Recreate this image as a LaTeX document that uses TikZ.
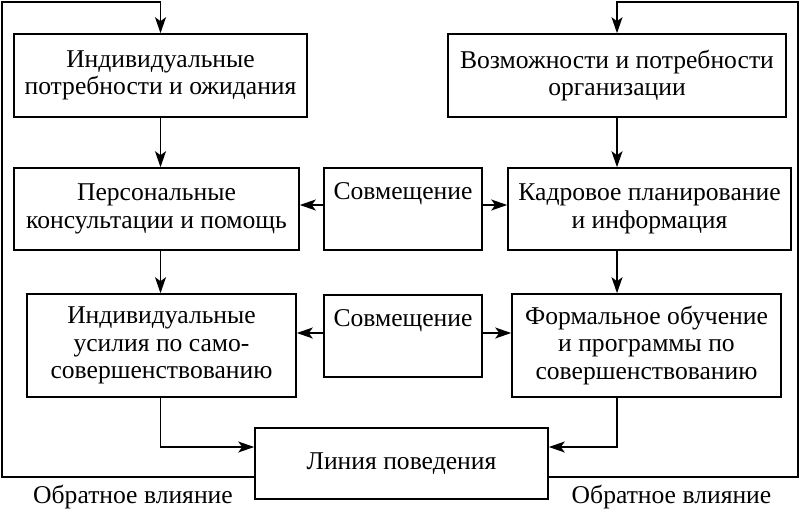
\documentclass[tikz,border=0pt]{standalone}
\usepackage{fontspec}
\setmainfont{Liberation Serif}
\usetikzlibrary{arrows.meta}
\begin{document}
\begin{tikzpicture}[x=1pt,y=-1pt,
  box/.style={draw,line width=1.6pt,inner sep=0pt,align=center,
    font=\fontsize{25.6}{27.5}\selectfont},
  arr/.style={line width=1.3pt,-{Stealth[length=16pt,width=11pt,inset=4pt]}},
  note/.style={font=\fontsize{25.6}{27.5}\selectfont,inner sep=0pt}]
\useasboundingbox (0,0) rectangle (800,511);
\node[box,minimum width=293pt,minimum height=83pt] (b1) at (160.5,75.5)
  {Индивидуальные\\потребности и ожидания};
\node[box,minimum width=338pt,minimum height=83pt] (b2) at (617,75.5)
  {Возможности и потребности\\организации};
\node[box,minimum width=285pt,minimum height=82pt] (b3) at (156.5,209)
  {Персональные\\консультации и помощь};
\node[box,minimum width=158pt,minimum height=82pt] (s1) at (403,209)
  {Совмещение\\\strut};
\node[box,minimum width=283pt,minimum height=82pt] (b4) at (649.5,209)
  {Кадровое планирование\\и информация};
\node[box,minimum width=269pt,minimum height=103pt] (b5) at (161.5,345.5)
  {Индивидуальные\\усилия по само-\\совершенствованию};
\node[box,minimum width=158pt,minimum height=82pt] (s2) at (403,336)
  {Совмещение\\\strut};
\node[box,minimum width=269pt,minimum height=103pt] (b6) at (646.5,345.5)
  {Формальное обучение\\и программы по\\совершенствованию};
\node[box,minimum width=293pt,minimum height=71pt] (L) at (401.5,463.5)
  {Линия поведения};
\node[note] (n1) at (133,497) {Обратное влияние};
\node[note] (n2) at (671.5,497) {Обратное влияние};
\coordinate (r2) at (0,205);
\coordinate (r3) at (0,333);
\coordinate (ly) at (0,447);
\coordinate (fb) at (0,477);
\coordinate (fl) at (2,2);
\coordinate (fr) at (798,2);
% vertical arrows
\draw[arr] (b1.south) -- (b1.south |- b3.north);
\draw[arr] (b1.south |- b3.south) -- (b1.south |- b5.north);
\draw[arr] (b2.south) -- (b2.south |- b4.north);
\draw[arr] (b2.south |- b4.south) -- (b2.south |- b6.north);
% horizontal arrows
\draw[arr] (s1.west |- r2) -- (b3.east |- r2);
\draw[arr] (s1.east |- r2) -- (b4.west |- r2);
\draw[arr] (s2.west |- r3) -- (b5.east |- r3);
\draw[arr] (s2.east |- r3) -- (b6.west |- r3);
% to Линия поведения
\draw[arr] (b1.south |- b5.south) |- (L.west |- ly);
\draw[arr] (b2.south |- b6.south) |- (L.east |- ly);
% feedback
\draw[arr] (L.west |- fb) -| (fl) -| (b1.north);
\draw[arr] (L.east |- fb) -| (fr) -| (b2.north);
\end{tikzpicture}
\end{document}
